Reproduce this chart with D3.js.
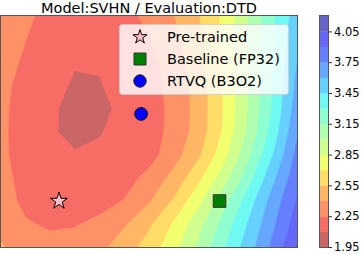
<!DOCTYPE html>
<html>
<head>
<meta charset="utf-8">
<script src="https://cdn.jsdelivr.net/npm/d3@7"></script>
<style>
  body { margin: 0; background: #fff; }
  svg { display: block; }
</style>
</head>
<body>
<div id="chart"></div>
<script>
// ── Data ──
var title = "Model:SVHN / Evaluation:DTD";

// contour levels (15 filled bands) and colourbar ticks
var levels = [1.95, 2.10, 2.25, 2.40, 2.55, 2.70, 2.85, 3.00, 3.15, 3.30, 3.45, 3.60, 3.75, 3.90, 4.05, 4.20];
var cbarTicks = [1.95, 2.25, 2.55, 2.85, 3.15, 3.45, 3.75, 4.05];

// loss surface sampled on a 13 x 11 grid (rows top → bottom)
var gridCols = 13, gridRows = 11;
var lossRows = [
  [2.340, 2.277, 2.205, 2.170, 2.170, 2.195, 2.295, 2.395, 2.540, 2.726, 2.996, 3.269, 3.530],
  [2.310, 2.252, 2.195, 2.145, 2.140, 2.180, 2.245, 2.358, 2.509, 2.719, 2.996, 3.280, 3.565],
  [2.290, 2.235, 2.170, 2.115, 2.110, 2.145, 2.198, 2.326, 2.481, 2.710, 2.996, 3.291, 3.600],
  [2.270, 2.225, 2.166, 2.075, 2.094, 2.145, 2.190, 2.300, 2.461, 2.705, 2.996, 3.298, 3.635],
  [2.265, 2.219, 2.132, 2.040, 2.070, 2.130, 2.180, 2.290, 2.453, 2.700, 2.996, 3.311, 3.675],
  [2.260, 2.225, 2.123, 2.050, 2.093, 2.140, 2.180, 2.296, 2.461, 2.712, 3.022, 3.354, 3.730],
  [2.265, 2.219, 2.150, 2.115, 2.120, 2.160, 2.190, 2.338, 2.519, 2.784, 3.100, 3.440, 3.790],
  [2.280, 2.218, 2.170, 2.145, 2.155, 2.190, 2.294, 2.445, 2.656, 2.919, 3.224, 3.556, 3.850],
  [2.300, 2.223, 2.195, 2.180, 2.190, 2.257, 2.384, 2.566, 2.807, 3.081, 3.366, 3.658, 3.910],
  [2.340, 2.261, 2.235, 2.240, 2.289, 2.383, 2.524, 2.715, 2.945, 3.197, 3.455, 3.716, 3.970],
  [2.420, 2.297, 2.285, 2.300, 2.360, 2.476, 2.611, 2.798, 3.023, 3.270, 3.524, 3.779, 4.055]
];

// marked models, in grid units
var markNames = ["Pre-trained", "Baseline (FP32)", "RTVQ (B3O2)"];
var markGx = [2.35, 8.86, 5.68];
var markGy = [8.01, 8.01, 4.24];

// ── Layout ──
var W = 363, H = 255;
var plot = { left: 1, right: 297, top: 16, bottom: 247 };
var cbar = { left: 320, right: 328 };
var FONT = "'DejaVu Sans', sans-serif";

var svg = d3.select("#chart").append("svg")
  .attr("width", W).attr("height", H)
  .attr("viewBox", "0 0 " + W + " " + H);

var x = d3.scaleLinear().domain([0, gridCols - 1]).range([plot.left, plot.right]);
var y = d3.scaleLinear().domain([0, gridRows - 1]).range([plot.top, plot.bottom]);

// jet_r sampled at band midpoints, alpha 0.6 over white
var jetR = [[0, 0], [0.35, 0], [0.66, 1], [0.89, 1], [1, 0.5]];
var jetG = [[0, 0], [0.125, 0], [0.375, 1], [0.64, 1], [0.91, 0], [1, 0]];
var jetB = [[0, 0.5], [0.11, 1], [0.34, 1], [0.65, 0], [1, 0]];
function seg(s, t) {
  for (var i = 1; i < s.length; i++) {
    if (t <= s[i][0]) return s[i - 1][1] + (s[i][1] - s[i - 1][1]) * (t - s[i - 1][0]) / (s[i][0] - s[i - 1][0]);
  }
  return s[s.length - 1][1];
}
function bandColour(k) {
  var t = 1 - (k + 0.5) / (levels.length - 1);
  var a = 0.6;
  var c = [seg(jetR, t), seg(jetG, t), seg(jetB, t)].map(function (v) {
    return Math.round(255 * (v * a + 1 - a));
  });
  return d3.rgb(c[0], c[1], c[2]).formatHex();
}

// ── Filled contours ──
var defs = svg.append("defs");
defs.append("clipPath").attr("id", "plot-clip")
  .append("rect")
  .attr("x", plot.left).attr("y", plot.top)
  .attr("width", plot.right - plot.left).attr("height", plot.bottom - plot.top);

var values = [].concat.apply([], lossRows);
var contours = d3.contours()
  .size([gridCols, gridRows])
  .thresholds(levels.slice(0, -1))(values);

var proj = d3.geoTransform({
  point: function (px, py) { this.stream.point(x(px - 0.5), y(py - 0.5)); }
});
var path = d3.geoPath(proj);

var g = svg.append("g").attr("clip-path", "url(#plot-clip)");
g.selectAll("path.band")
  .data(contours).join("path")
    .attr("class", "band")
    .attr("d", path)
    .attr("fill", function (d, i) { return bandColour(i); })
    .attr("stroke", function (d, i) { return bandColour(i); })
    .attr("stroke-width", 0.4);

// frame
svg.append("rect")
  .attr("x", plot.left - 0.5).attr("y", plot.top - 0.5)
  .attr("width", plot.right - plot.left + 1).attr("height", plot.bottom - plot.top + 1)
  .attr("fill", "none").attr("stroke", "#555").attr("stroke-width", 1);

// ── Markers ──
var markSymbols = [d3.symbolStar, d3.symbolSquare, d3.symbolCircle];
var markSizes = [88, 160, 127];
var legendSizes = [62, 144, 120];
var markFill = ["#ffc0cb", "#008000", "#0000ff"];
var markStroke = ["#000", "#333", "#111"];

svg.selectAll("path.mark")
  .data(markNames).join("path")
    .attr("class", "mark")
    .attr("transform", function (d, i) { return "translate(" + x(markGx[i]) + "," + y(markGy[i]) + ")"; })
    .attr("d", function (d, i) { return d3.symbol(markSymbols[i], markSizes[i])(); })
    .attr("fill", function (d, i) { return markFill[i]; })
    .attr("stroke", function (d, i) { return markStroke[i]; })
    .attr("stroke-width", 1);

// ── Legend ──
var lg = svg.append("g");
lg.append("rect")
  .attr("x", 119.5).attr("y", 24.5).attr("width", 169).attr("height", 70)
  .attr("rx", 3)
  .attr("fill", "#fff").attr("fill-opacity", 0.8)
  .attr("stroke", "#ccc").attr("stroke-opacity", 0.8);
markNames.forEach(function (name, i) {
  var cy = 37 + i * 22;
  lg.append("path")
    .attr("transform", "translate(140," + cy + ")")
    .attr("d", d3.symbol(markSymbols[i], legendSizes[i])())
    .attr("fill", markFill[i]).attr("stroke", markStroke[i]).attr("stroke-width", 1);
  lg.append("text")
    .attr("x", 167).attr("y", cy).attr("dy", "0.36em")
    .attr("font-family", FONT).attr("font-size", 14.5).attr("fill", "#000")
    .text(name);
});

// ── Title ──
svg.append("text")
  .attr("x", (plot.left + plot.right) / 2).attr("y", 12.5)
  .attr("text-anchor", "middle")
  .attr("font-family", FONT).attr("font-size", 14.5).attr("fill", "#000")
  .text(title);

// ── Colourbar ──
var cScale = d3.scaleLinear().domain([levels[0], levels[levels.length - 1]]).range([plot.bottom, plot.top]);
var bands = d3.range(levels.length - 1);
svg.selectAll("rect.cbar")
  .data(bands).join("rect")
    .attr("class", "cbar")
    .attr("x", cbar.left).attr("width", cbar.right - cbar.left)
    .attr("y", function (k) { return cScale(levels[k + 1]); })
    .attr("height", function (k) { return cScale(levels[k]) - cScale(levels[k + 1]) + 0.3; })
    .attr("fill", function (k) { return bandColour(k); });
svg.append("rect")
  .attr("x", cbar.left - 0.5).attr("y", plot.top - 0.5)
  .attr("width", cbar.right - cbar.left + 1).attr("height", plot.bottom - plot.top + 1)
  .attr("fill", "none").attr("stroke", "#555").attr("stroke-width", 1);

svg.append("g")
  .attr("transform", "translate(" + (cbar.right + 0.5) + ",0)")
  .call(d3.axisRight(cScale).tickValues(cbarTicks).tickSize(3.5).tickPadding(2).tickFormat(d3.format(".2f")))
  .call(function (gg) { gg.select(".domain").remove(); })
  .call(function (gg) { gg.selectAll(".tick line").attr("stroke", "#333"); })
  .call(function (gg) {
    gg.selectAll(".tick text")
      .attr("font-family", FONT).attr("font-size", 11.5).attr("fill", "#000");
  });
</script>
</body>
</html>
